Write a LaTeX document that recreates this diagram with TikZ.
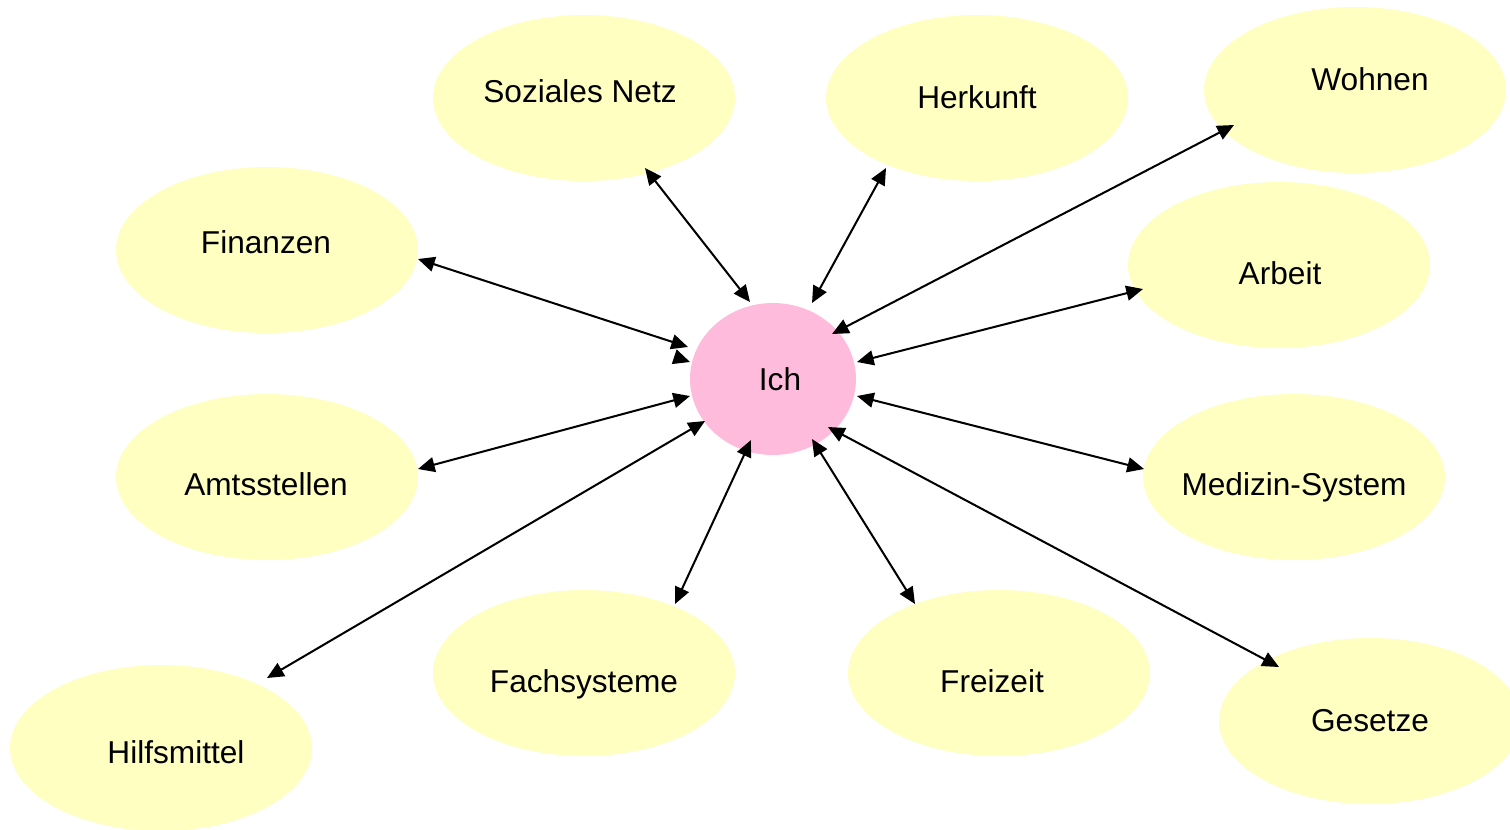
\documentclass[tikz,border=0pt]{standalone}
\usepackage{fontspec}
\setmainfont{Liberation Sans}
\usetikzlibrary{shapes.geometric,arrows.meta}
\definecolor{bubble}{HTML}{FFFFC2}
\definecolor{selfpink}{HTML}{FFBBDC}
\begin{document}
\begin{tikzpicture}[x=0.02cm,y=-0.02cm,
  bub/.style={ellipse,fill=bubble,draw=none,minimum width=6.04cm,minimum height=3.32cm,inner sep=0pt},
  self/.style={ellipse,fill=selfpink,draw=none,minimum width=3.32cm,minimum height=3.04cm,inner sep=0pt},
  lbl/.style={font=\fontsize{18}{22}\selectfont,inner sep=0pt,text height=0.716em,text depth=0pt,anchor=center},
  conn/.style={line width=1.15pt,{Triangle[length=9.5pt,width=8.5pt]}-{Triangle[length=9.5pt,width=8.5pt]}},
  conn1/.style={line width=1.15pt,-{Triangle[length=9.5pt,width=8.5pt]}}]
\useasboundingbox (0,0) rectangle (1510,829);
\fill[white] (0,0) rectangle (1510,829);

% surrounding areas
\node[bub] (soz)  at (584,98)  {};
\node[bub] (herk) at (977,98)  {};
\node[bub] (wohn) at (1355,90) {};
\node[bub] (fin)  at (267,250) {};
\node[bub] (arb)  at (1279,265) {};
\node[bub] (amt)  at (267,477) {};
\node[bub] (med)  at (1294,477) {};
\node[bub] (hilf) at (161,748) {};
\node[bub] (fach) at (584,673) {};
\node[bub] (frei) at (999,673) {};
\node[bub] (ges)  at (1370,721) {};
% centre
\node[self] (ich) at (773,379) {};

% labels
\node[lbl] (sozT)  at (580,96)   {Soziales Netz};
\node[lbl] (herkT) at (977,102)  {Herkunft};
\node[lbl] (wohnT) at (1370,84)  {Wohnen};
\node[lbl] (finT)  at (266,247)  {Finanzen};
\node[lbl] (arbT)  at (1280,278) {Arbeit};
\node[lbl] (amtT)  at (266,489)  {Amtsstellen};
\node[lbl] (medT)  at (1294,489) {Medizin-System};
\node[lbl] (hilfT) at (176,757)  {Hilfsmittel};
\node[lbl] (fachT) at (584,686)  {Fachsysteme};
\node[lbl] (freiT) at (992,686)  {Freizeit};
\node[lbl] (gesT)  at (1370,725) {Gesetze};
\node[lbl] (ichT)  at (780,384)  {Ich};

% two-way connectors
\draw[conn] ([shift={(61,70)}]soz.center)    -- ([shift={(-23,-77)}]ich.center);
\draw[conn] ([shift={(-91,70)}]herk.center)  -- ([shift={(39,-76)}]ich.center);
\draw[conn] ([shift={(-121,35)}]wohn.center) -- ([shift={(59,-45)}]ich.center);
\draw[conn] ([shift={(151,9)}]fin.center)    -- ([shift={(-85,-32)}]ich.center);
\draw[conn1] ([shift={(-98,-22)}]ich.center) -- ([shift={(-83,-17)}]ich.center);
\draw[conn] ([shift={(-136,24)}]arb.center)  -- ([shift={(84,-17)}]ich.center);
\draw[conn] ([shift={(151,-8)}]amt.center)   -- ([shift={(-83,17)}]ich.center);
\draw[conn] ([shift={(-150,-8)}]med.center)  -- ([shift={(84,17)}]ich.center);
\draw[conn] ([shift={(106,-70)}]hilf.center) -- ([shift={(-68,42)}]ich.center);
\draw[conn] ([shift={(91,-69)}]fach.center)  -- ([shift={(-22,61)}]ich.center);
\draw[conn] ([shift={(-84,-69)}]frei.center) -- ([shift={(39,60)}]ich.center);
\draw[conn] ([shift={(-91,-54)}]ges.center)  -- ([shift={(55,48)}]ich.center);
\end{tikzpicture}
\end{document}
